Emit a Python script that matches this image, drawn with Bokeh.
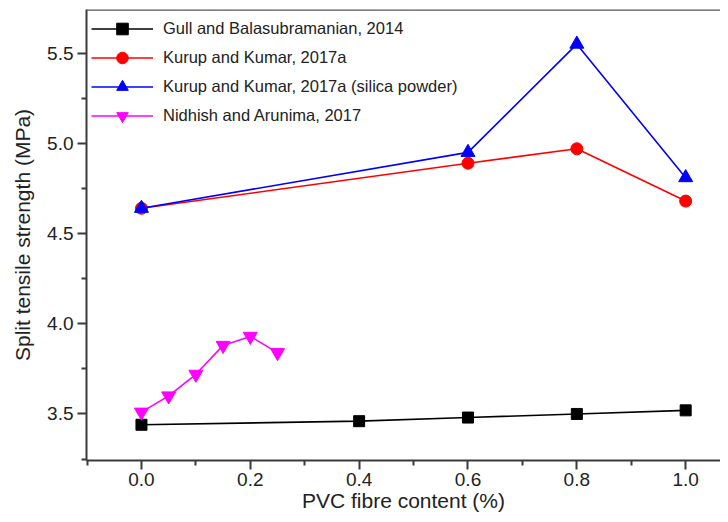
from bokeh.plotting import figure
from bokeh.models import (Range1d, FixedTicker, Legend, LegendItem,
                          NumeralTickFormatter, Span)
from bokeh.embed import file_html
from bokeh.resources import INLINE

# ---- data ----
gull_x = [0.0, 0.4, 0.6, 0.8, 1.0]
gull_y = [3.44, 3.46, 3.48, 3.50, 3.52]

kurup_x = [0.0, 0.6, 0.8, 1.0]
kurup_y = [4.64, 4.89, 4.97, 4.68]

kurup_si_x = [0.0, 0.6, 0.8, 1.0]
kurup_si_y = [4.64, 4.95, 5.55, 4.81]

nidhish_x = [0.0, 0.05, 0.10, 0.15, 0.20, 0.25]
nidhish_y = [3.51, 3.60, 3.72, 3.88, 3.93, 3.84]

labels = ["Gull and Balasubramanian, 2014",
          "Kurup and Kumar, 2017a",
          "Kurup and Kumar, 2017a (silica powder)",
          "Nidhish and Arunima, 2017"]

x_ticks = [0.0, 0.2, 0.4, 0.6, 0.8, 1.0]
y_ticks = [3.5, 4.0, 4.5, 5.0, 5.5]

FONT = "Liberation Sans"
AX = "#3a3a3a"
TXT = "#222222"

p = figure(width=720, height=514, output_backend="svg", toolbar_location=None,
           x_range=Range1d(-0.101, 1.064), y_range=Range1d(3.242, 5.742),
           min_border_left=86, min_border_bottom=53, min_border_top=9,
           min_border_right=0)
p.outline_line_color = None
p.grid.visible = False
p.background_fill_color = "white"

xa = p.below[0]
xa.ticker = FixedTicker(ticks=x_ticks, minor_ticks=[-0.1, 0.1, 0.3, 0.5, 0.7, 0.9])
xa.formatter = NumeralTickFormatter(format="0.0")
xa.axis_label = "PVC fibre content (%)"

ya = p.left[0]
ya.ticker = FixedTicker(ticks=y_ticks, minor_ticks=[3.25, 3.75, 4.25, 4.75, 5.25, 5.75])
ya.formatter = NumeralTickFormatter(format="0.0")
ya.axis_label = "Split tensile strength (MPa)"

for ax in (xa, ya):
    ax.axis_line_color = AX
    ax.axis_line_width = 2
    ax.major_tick_line_color = AX
    ax.minor_tick_line_color = AX
    ax.major_tick_line_width = 2
    ax.minor_tick_line_width = 2
    ax.major_tick_out = 9
    ax.major_tick_in = 0
    ax.minor_tick_out = 5
    ax.minor_tick_in = 0
    ax.major_label_text_font = FONT
    ax.major_label_text_font_size = "19px"
    ax.major_label_text_color = TXT
    ax.axis_label_text_font = FONT
    ax.axis_label_text_font_size = "21px"
    ax.axis_label_text_font_style = "normal"
    ax.axis_label_text_color = TXT
xa.major_label_standoff = 3
xa.axis_label_standoff = 0
ya.major_label_standoff = 4
ya.axis_label_standoff = 10

# top frame line
p.add_layout(Span(location=5.742, dimension="width", line_color="#555555",
                  line_width=2.5))

lw = 1.6
l1 = p.line(gull_x, gull_y, line_color="black", line_width=lw)
m1 = p.scatter(gull_x, gull_y, marker="square", size=11, color="black")
l2 = p.line(kurup_x, kurup_y, line_color="red", line_width=lw)
m2 = p.scatter(kurup_x, kurup_y, marker="circle", size=12, color="red")
l3 = p.line(kurup_si_x, kurup_si_y, line_color="blue", line_width=lw)
m3 = p.scatter(kurup_si_x, kurup_si_y, marker="triangle", size=14, color="blue")
l4 = p.line(nidhish_x, nidhish_y, line_color="magenta", line_width=lw)
m4 = p.scatter(nidhish_x, nidhish_y, marker="inverted_triangle", size=14, color="magenta")

legend = Legend(items=[LegendItem(label=labels[0], renderers=[l1, m1]),
                       LegendItem(label=labels[1], renderers=[l2, m2]),
                       LegendItem(label=labels[2], renderers=[l3, m3]),
                       LegendItem(label=labels[3], renderers=[l4, m4])],
                location="top_left")
legend.border_line_color = None
legend.background_fill_alpha = 0
legend.label_text_font = FONT
legend.label_text_font_size = "16.5px"
legend.label_text_color = TXT
legend.glyph_width = 62
legend.glyph_height = 29
legend.label_height = 29
legend.spacing = 0
legend.padding = 5
legend.margin = 5
legend.label_standoff = 10
p.add_layout(legend)

open("out.html", "w").write(file_html(p, INLINE))
